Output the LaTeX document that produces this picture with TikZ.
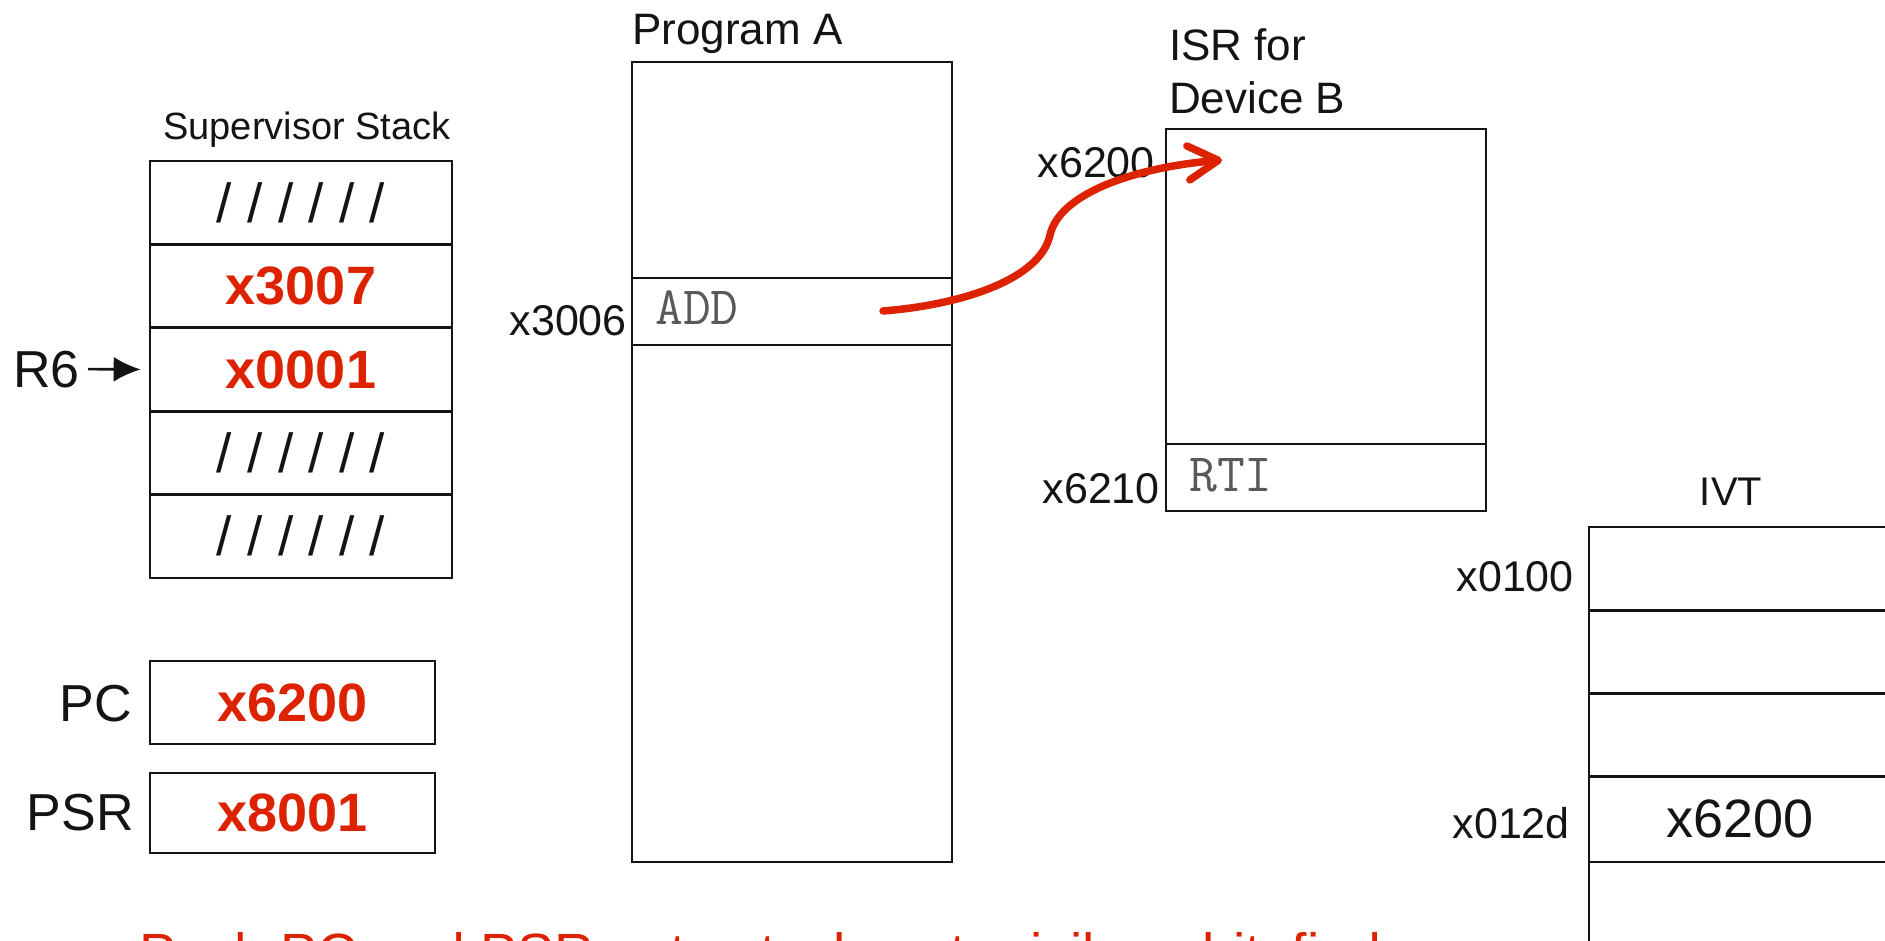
\documentclass[tikz,border=0pt]{standalone}
\usepackage{fontspec}
\setmainfont{Liberation Sans}
\usetikzlibrary{arrows.meta}
\definecolor{redt}{RGB}{221,34,0}
\definecolor{ink}{RGB}{20,20,20}
\begin{document}
\begin{tikzpicture}[x=1pt,y=-1pt,
  cell/.style={draw=ink, line width=2.6pt, minimum width=302pt, minimum height=83.4pt, inner sep=0pt, anchor=center},
  mem/.style={draw=ink, line width=2.6pt, minimum width=320pt, inner sep=0pt, anchor=center},
  regbox/.style={draw=ink, line width=2.6pt, minimum width=285pt, inner sep=0pt, anchor=center},
  redval/.style={text=redt, font=\fontsize{54}{64}\selectfont\bfseries},
  slashes/.style={text=ink, font=\fontsize{55}{64}\selectfont},
  lbl/.style={text=ink, inner sep=0pt, font=\fontsize{52}{62}\selectfont},
  addr/.style={text=ink, inner sep=0pt, font=\fontsize{43}{52}\selectfont},
  ttl/.style={text=ink, inner sep=0pt, font=\fontsize{44}{53}\selectfont},
  smallttl/.style={text=ink, inner sep=0pt, font=\fontsize{38}{46}\selectfont},
  code/.style={text=black!65, inner sep=0pt, font=\fontsize{54}{62}\selectfont\ttfamily\addfontfeature{FakeStretch=1.18}},
  note/.style={text=redt, inner sep=0pt, font=\fontsize{55.3}{66}\selectfont}
]
\path[use as bounding box, fill=white] (0,0) rectangle (1885,941);

% Supervisor stack
\node[smallttl, anchor=base] (sst) at (307,140) {Supervisor Stack};
\node[cell, slashes] (s1) at (301,202.7) {/ / / / / /};
\node[cell, redval] (s2) at (301,286.1) {x3007};
\node[cell, redval] (s3) at (301,369.5) {x0001};
\node[cell, slashes] (s4) at (301,452.9) {/ / / / / /};
\node[cell, slashes] (s5) at (301,536.3) {/ / / / / /};
\node[lbl, anchor=base east] (r6) at (80,387) {R6};
\draw[ink, line width=2.6pt, shorten <=8pt, shorten >=8pt, -{Latex[length=27pt,width=25pt]}] (r6.east) -- (s3.west);

% PC and PSR
\node[regbox, redval, minimum height=83pt] (pc) at (292.5,702.5) {x6200};
\node[regbox, redval, minimum height=80pt] (psr) at (292.5,813) {x8001};
\node[lbl, anchor=east] (pcl) at (132,704) {PC};
\node[lbl, anchor=east] (psrl) at (134,812.5) {PSR};

% Program A
\node[ttl, anchor=base west] (pat) at (632,45) {Program A};
\node[mem, minimum height=800pt] (pa) at (792,462) {};
\node[mem, minimum height=67pt] (add) at (792,311.5) {};
\node[code, anchor=base west] (addt) at (655,325) {ADD};
\node[addr, anchor=base east] (a3006) at (627,336) {x3006};

% ISR for Device B
\node[ttl, anchor=base west] (isr1) at (1169,61) {ISR for};
\node[ttl, anchor=base west] (isr2) at (1169,114) {Device B};
\node[mem, minimum height=382pt] (isr) at (1326,320) {};
\node[mem, minimum height=67pt] (rti) at (1326,477.5) {};
\node[code, anchor=base west] (rtit) at (1189,491.7) {RTI};
\node[addr, anchor=base east] (a6200) at (1155,178) {x6200};
\node[addr, anchor=base east] (a6210) at (1160,503) {x6210};

% interrupt jump
\coordinate (cs) at (883,311);
\coordinate (ce) at (1222,160);
\draw[redt, line width=7.5pt, line cap=round, -{Straight Barb[length=30pt,width=34pt,round]}]
  (cs) .. controls (960,305) and (1040,280) .. (1050,235)
       .. controls (1059,195) and (1130,168) .. (ce);

% IVT
\node[smallttl, font=\fontsize{40}{48}\selectfont, anchor=base] (ivtt) at (1731,505) {IVT};
\node[cell] (v1) at (1740,568.5) {};
\node[cell] (v2) at (1740,651.5) {};
\node[cell] (v3) at (1740,734.5) {};
\node[cell, minimum height=86pt, text=ink, font=\fontsize{54}{64}\selectfont] (v4) at (1740,819) {x6200};
\node[cell] (v5) at (1740,903.5) {};
\node[addr, anchor=base east] (a0100) at (1574,591) {x0100};
\node[addr, anchor=base east] (a012d) at (1570,838) {x012d};

% note (cut by the lower edge, as in the reference)
\node[note, anchor=base west] (nt) at (139,972.6) {Push PC and PSR onto stack, set privilege bit, find};
\end{tikzpicture}
\end{document}
